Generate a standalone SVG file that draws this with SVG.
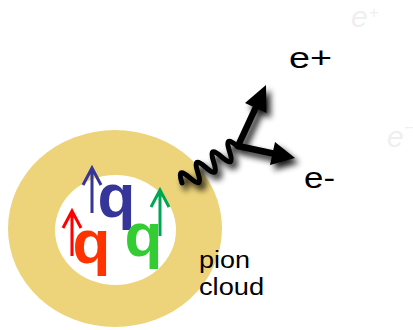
<svg xmlns="http://www.w3.org/2000/svg" width="413" height="330" viewBox="0 0 413 330">
  <defs>
    <filter id="shadow" x="-30%" y="-30%" width="160%" height="160%">
      <feGaussianBlur in="SourceAlpha" stdDeviation="3"/>
      <feOffset dx="4" dy="5" result="blur"/>
      <feComponentTransfer><feFuncA type="linear" slope="0.9"/></feComponentTransfer>
      <feMerge><feMergeNode/><feMergeNode in="SourceGraphic"/></feMerge>
    </filter>
  </defs>
  <style>
    .label { font-family: "Liberation Sans", Arial, sans-serif; fill: #000; }
    .ghost { font-family: "Liberation Sans", Arial, sans-serif; font-style: italic; fill: #efefef; }
    .quark { font-family: "Liberation Sans", Arial, sans-serif; font-weight: bold; font-size: 62px; }
    .spin { fill: none; stroke-width: 3; stroke-linecap: butt; stroke-linejoin: miter; }
  </style>
  <rect width="413" height="330" fill="#fff"/>

  <!-- faint background labels -->
  <g id="ghost-labels">
    <text class="ghost" x="351" y="27" font-size="30">e</text>
    <text class="ghost" x="369" y="18" font-size="16">+</text>
    <text class="ghost" x="387" y="147" font-size="30">e</text>
    <text class="ghost" x="404" y="133" font-size="16">−</text>
  </g>

  <!-- pion cloud around the nucleon core -->
  <g id="pion-cloud">
    <ellipse cx="115" cy="228.5" rx="107" ry="98.5" fill="#EDD47A"/>
    <ellipse cx="115.5" cy="230" rx="60.5" ry="55" fill="#fff"/>
  </g>

  <!-- valence quarks with spin arrows -->
  <g id="quark-blue">
    <path class="spin" stroke="#35359A" d="M92,213 V168 M83,185 L92,168 L101,185"/>
    <text class="quark" x="97.5" y="217" fill="#35359A">q</text>
  </g>
  <g id="quark-red">
    <path class="spin" stroke="#FF0000" d="M72,256 V211 M63,228 L72,211 L81,228"/>
    <text class="quark" x="72.5" y="263" fill="#FF3300">q</text>
  </g>
  <g id="quark-green">
    <path class="spin" stroke="#00A650" d="M160,236 V190 M151,207 L160,190 L169,207"/>
    <text class="quark" x="124.5" y="256" fill="#33CC33">q</text>
  </g>

  <!-- virtual photon and lepton pair -->
  <g id="connectors" filter="url(#shadow)">
    <path d="M0,0 q4.75,-18 9.5,0 t9.5,0 t9.5,0 t9.5,0 t9.5,0 t9.5,0 t9.5,0" transform="translate(182,183) rotate(-33.5)" fill="none" stroke="#000" stroke-width="5" stroke-linecap="round" stroke-linejoin="round"/>
    <line x1="238" y1="146" x2="256" y2="107" stroke="#000" stroke-width="6.5" stroke-linecap="round"/>
    <polygon points="266,85 266.5,113 245,103" fill="#000"/>
    <line x1="238" y1="146" x2="273" y2="153.5" stroke="#000" stroke-width="6.5" stroke-linecap="round"/>
    <polygon points="295,158 270,165 275,142" fill="#000"/>
  </g>

  <!-- labels -->
  <g id="label-eplus"><text class="label" x="289" y="68" font-size="30" textLength="43" lengthAdjust="spacingAndGlyphs">e+</text></g>
  <g id="label-eminus"><text class="label" x="304" y="188" font-size="29" textLength="31" lengthAdjust="spacingAndGlyphs">e-</text></g>
  <g id="label-pion">
    <text class="label" x="199" y="268" font-size="23" textLength="51" lengthAdjust="spacingAndGlyphs">pion</text>
    <text class="label" x="199" y="295" font-size="23" textLength="65" lengthAdjust="spacingAndGlyphs">cloud</text>
  </g>
</svg>
